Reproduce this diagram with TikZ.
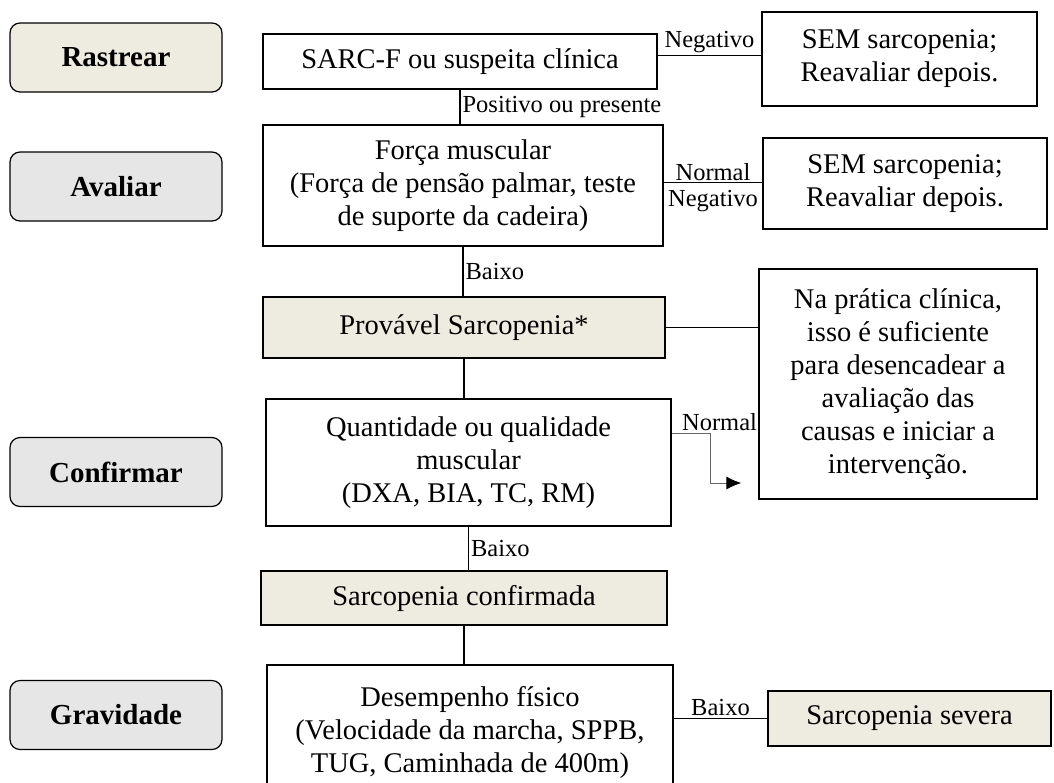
\documentclass[tikz,border=0pt]{standalone}
\usepackage{fontspec}
\setmainfont{Liberation Serif}
\usetikzlibrary{positioning, arrows.meta}
\definecolor{beige}{RGB}{238,235,224}
\definecolor{stagegray}{RGB}{230,230,230}
\tikzstyle{link} = [line width=1.2pt]
\tikzstyle{arrow} = [line width=1pt, draw=black!60, -{Latex[length=15pt,width=13pt,color=black]}]
\tikzstyle{stage} = [rectangle, rounded corners=10pt, minimum width=212pt, minimum height=69pt, draw=black, line width=1.2pt, fill=stagegray, font=\fontsize{29}{33}\selectfont\bfseries]
\tikzstyle{process} = [rectangle, draw=black, line width=1.2pt, align=center, inner sep=0pt, font=\fontsize{28.5}{33}\selectfont]
\tikzstyle{result} = [process, fill=beige]
\tikzstyle{edgelabel} = [font=\fontsize{24.5}{28}\selectfont, inner sep=2pt]

\begin{document}
\begin{tikzpicture}[x=1pt, y=1pt, node distance=130pt]
\useasboundingbox (0,0) rectangle (1054,-782);
% Stage column
\node (rastrear) [stage, fill=beige] at (116,-57.5) {Rastrear};
\node (avaliar) [stage, below of=rastrear, yshift=1pt] {Avaliar};
\node (confirmar) [stage, below of=avaliar, yshift=-155.5pt] {Confirmar};
\node (gravidade) [stage, below of=confirmar, yshift=-113pt] {Gravidade};

% Main flow
\node (sarcf) [process, right of=rastrear, xshift=214pt, yshift=-4pt, minimum width=394pt, minimum height=55pt] {SARC-F ou suspeita clínica};
\node (forca) [process, below of=sarcf, xshift=3pt, yshift=6pt, minimum width=400pt, minimum height=121pt] {Força muscular\\(Força de pensão palmar, teste\\de suporte da cadeira)};
\node (provavel) [result, below of=forca, xshift=1pt, yshift=-12pt, minimum width=402pt, minimum height=61pt] {Provável Sarcopenia*};
\node (quant) [process, below of=provavel, xshift=4.5pt, yshift=-5pt, minimum width=405pt, minimum height=127pt] {Quantidade ou qualidade\\muscular\\(DXA, BIA, TC, RM)};
\node (confirmada) [result, below of=quant, xshift=-4.5pt, yshift=-5.5pt, minimum width=406pt, minimum height=54pt] {Sarcopenia confirmada};
\node (desemp) [process, below of=confirmada, xshift=6pt, yshift=-4.5pt, minimum width=406pt, minimum height=135pt] {Desempenho físico\\(Velocidade da marcha, SPPB,\\TUG, Caminhada de 400m)};

% Outcomes
\node (sem1) [process, right of=sarcf, xshift=309.5pt, yshift=2.5pt, minimum width=275pt, minimum height=94pt] {SEM sarcopenia;\\Reavaliar depois.};
\node (sem2) [process, right of=forca, xshift=312pt, yshift=2pt, minimum width=284pt, minimum height=91pt] {SEM sarcopenia;\\Reavaliar depois.};
\node (pratica) [process, right of=provavel, xshift=304pt, yshift=-56.5pt, minimum width=278pt, minimum height=230pt] {Na prática clínica,\\isso é suficiente\\para desencadear a\\avaliação das\\causas e iniciar a\\intervenção.};
\node (severa) [result, right of=desemp, xshift=309.5pt, yshift=14pt, minimum width=283pt, minimum height=55pt] {Sarcopenia severa};

% Vertical links
\draw [link] (sarcf.south) -- node[edgelabel, anchor=west] {Positivo ou presente} (sarcf.south |- forca.north);
\draw [link] (forca.south) -- node[edgelabel, anchor=west] {Baixo} (forca.south |- provavel.north);
\draw [link] (provavel.south) -- (provavel.south |- quant.north);
\draw [link] (quant.south) -- node[edgelabel, anchor=west] {Baixo} (quant.south |- confirmada.north);
\draw [link] (confirmada.south) -- (confirmada.south |- desemp.north);

% Side links
\draw [link] ([yshift=6pt]sarcf.east) -- node[edgelabel, above] {Negativo} ([yshift=6pt]sarcf.east -| sem1.west);
\draw [link] ([yshift=3pt]forca.east) -- node[edgelabel, anchor=base, yshift=2pt] {Normal} node[edgelabel, below, inner sep=7pt] {Negativo} ([yshift=3pt]forca.east -| sem2.west);
\draw [link] (provavel.east) -- (provavel.east -| pratica.west);
\draw [link] (severa.west -| desemp.east) -- node[edgelabel, above] {Baixo} (severa.west);

% Normal branch
\coordinate (normEnd) at ([xshift=-17pt, yshift=-99pt] pratica.west);
\draw [arrow] ([yshift=29.5pt]quant.east) -- node[edgelabel, pos=0, anchor=south west, xshift=8pt] {Normal} ++(39pt,0) |- (normEnd);
\end{tikzpicture}
\end{document}
